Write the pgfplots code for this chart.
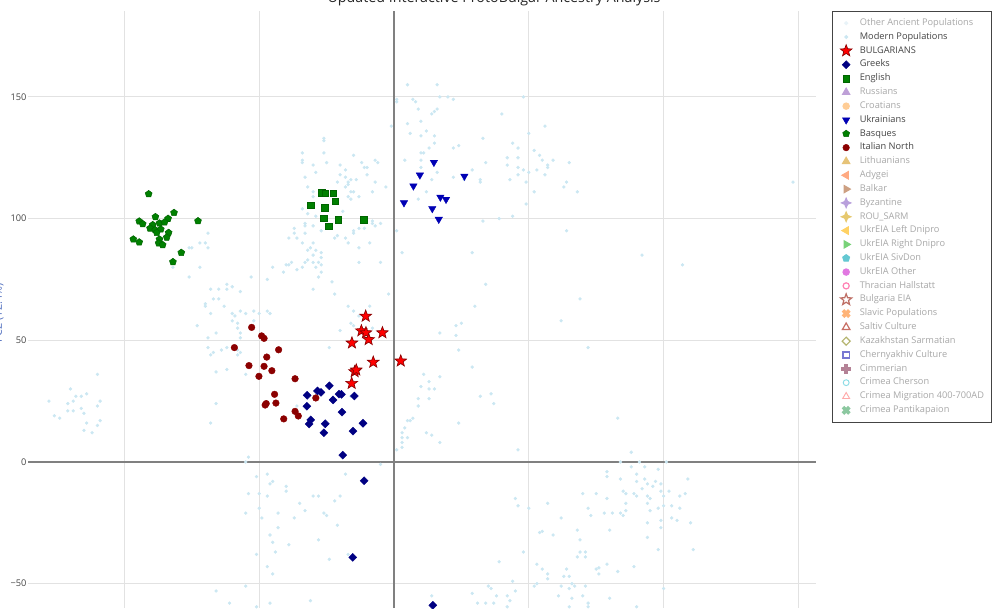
\documentclass[border=0pt]{standalone}
\usepackage{fontspec}
\setmainfont{Open Sans}
\usepackage{pgfplots}
\pgfplotsset{compat=1.18}
\usetikzlibrary{plotmarks}
\definecolor{txt}{RGB}{68,68,68}
\definecolor{fade}{RGB}{168,168,168}
\definecolor{gridc}{RGB}{226,226,226}
\definecolor{zero}{RGB}{128,128,128}
\definecolor{modern}{RGB}{203,231,242}
\definecolor{ancient}{RGB}{232,243,248}
\definecolor{bulline}{RGB}{139,0,0}
\definecolor{greek}{RGB}{0,0,130}
\definecolor{ukr}{RGB}{0,0,180}
\definecolor{eng}{RGB}{0,128,0}
\definecolor{engd}{RGB}{0,100,0}
\definecolor{itn}{RGB}{139,0,0}
\definecolor{ylab}{RGB}{80,110,190}
\definecolor{fRus}{RGB}{190,160,215}
\definecolor{fCro}{RGB}{255,205,150}
\definecolor{fLit}{RGB}{230,195,120}
\definecolor{fAdy}{RGB}{255,170,130}
\definecolor{fBal}{RGB}{205,160,130}
\definecolor{fByz}{RGB}{185,160,220}
\definecolor{fRou}{RGB}{230,200,110}
\definecolor{fLD}{RGB}{255,210,100}
\definecolor{fRD}{RGB}{120,210,120}
\definecolor{fSiv}{RGB}{100,200,210}
\definecolor{fOth}{RGB}{225,120,225}
\definecolor{fThr}{RGB}{255,130,180}
\definecolor{fBEIA}{RGB}{190,110,100}
\definecolor{fSla}{RGB}{255,180,120}
\definecolor{fSal}{RGB}{200,110,100}
\definecolor{fKaz}{RGB}{180,180,110}
\definecolor{fChe}{RGB}{120,120,210}
\definecolor{fCim}{RGB}{180,130,150}
\definecolor{fChr}{RGB}{140,220,230}
\definecolor{fMig}{RGB}{255,170,170}
\definecolor{fPan}{RGB}{140,200,160}

\pgfdeclareplotmark{fstar}{%
\pgfpathmoveto{\pgfpointpolar{90}{\pgfplotmarksize}}%
\pgfpathlineto{\pgfpointpolar{126}{0.42\pgfplotmarksize}}%
\pgfpathlineto{\pgfpointpolar{162}{\pgfplotmarksize}}%
\pgfpathlineto{\pgfpointpolar{198}{0.42\pgfplotmarksize}}%
\pgfpathlineto{\pgfpointpolar{234}{\pgfplotmarksize}}%
\pgfpathlineto{\pgfpointpolar{270}{0.42\pgfplotmarksize}}%
\pgfpathlineto{\pgfpointpolar{306}{\pgfplotmarksize}}%
\pgfpathlineto{\pgfpointpolar{342}{0.42\pgfplotmarksize}}%
\pgfpathlineto{\pgfpointpolar{18}{\pgfplotmarksize}}%
\pgfpathlineto{\pgfpointpolar{54}{0.42\pgfplotmarksize}}%
\pgfpathclose\pgfusepathqfillstroke}
\pgfdeclareplotmark{pdiamond}{%
\pgfpathmoveto{\pgfqpoint{0pt}{\pgfplotmarksize}}%
\pgfpathlineto{\pgfqpoint{\pgfplotmarksize}{0pt}}%
\pgfpathlineto{\pgfqpoint{0pt}{-\pgfplotmarksize}}%
\pgfpathlineto{\pgfqpoint{-\pgfplotmarksize}{0pt}}%
\pgfpathclose\pgfusepathqfillstroke}
\pgfdeclareplotmark{sdiamond}{%
\pgfpathmoveto{\pgfqpoint{0pt}{\pgfplotmarksize}}%
\pgfpathlineto{\pgfqpoint{0.3\pgfplotmarksize}{0.3\pgfplotmarksize}}%
\pgfpathlineto{\pgfqpoint{\pgfplotmarksize}{0pt}}%
\pgfpathlineto{\pgfqpoint{0.3\pgfplotmarksize}{-0.3\pgfplotmarksize}}%
\pgfpathlineto{\pgfqpoint{0pt}{-\pgfplotmarksize}}%
\pgfpathlineto{\pgfqpoint{-0.3\pgfplotmarksize}{-0.3\pgfplotmarksize}}%
\pgfpathlineto{\pgfqpoint{-\pgfplotmarksize}{0pt}}%
\pgfpathlineto{\pgfqpoint{-0.3\pgfplotmarksize}{0.3\pgfplotmarksize}}%
\pgfpathclose\pgfusepathqfillstroke}
\pgfdeclareplotmark{fcross}{%
\pgfpathmoveto{\pgfqpoint{0.33\pgfplotmarksize}{\pgfplotmarksize}}%
\pgfpathlineto{\pgfqpoint{0.33\pgfplotmarksize}{0.33\pgfplotmarksize}}%
\pgfpathlineto{\pgfqpoint{\pgfplotmarksize}{0.33\pgfplotmarksize}}%
\pgfpathlineto{\pgfqpoint{\pgfplotmarksize}{-0.33\pgfplotmarksize}}%
\pgfpathlineto{\pgfqpoint{0.33\pgfplotmarksize}{-0.33\pgfplotmarksize}}%
\pgfpathlineto{\pgfqpoint{0.33\pgfplotmarksize}{-\pgfplotmarksize}}%
\pgfpathlineto{\pgfqpoint{-0.33\pgfplotmarksize}{-\pgfplotmarksize}}%
\pgfpathlineto{\pgfqpoint{-0.33\pgfplotmarksize}{-0.33\pgfplotmarksize}}%
\pgfpathlineto{\pgfqpoint{-\pgfplotmarksize}{-0.33\pgfplotmarksize}}%
\pgfpathlineto{\pgfqpoint{-\pgfplotmarksize}{0.33\pgfplotmarksize}}%
\pgfpathlineto{\pgfqpoint{-0.33\pgfplotmarksize}{0.33\pgfplotmarksize}}%
\pgfpathlineto{\pgfqpoint{-0.33\pgfplotmarksize}{\pgfplotmarksize}}%
\pgfpathclose\pgfusepathqfillstroke}

\pgfplotsset{mk/.style={only marks, legend image code/.code={\path[draw=none,fill=none] (0pt,-3pt) rectangle (12pt,3pt); \draw[##1,overlay] plot coordinates {(6pt,0pt)};}}}

\begin{document}
\begin{tikzpicture}
\useasboundingbox (0,0) rectangle (750pt,456pt);
\clip (0,0) rectangle (750pt,456pt);
\begin{axis}[
  at={(21pt,0pt)}, anchor=south west,
  scale only axis, width=591pt, height=447.75pt,
  xmin=-135.76, xmax=156.53, ymin=-60, ymax=185.3,
  axis line style={draw=none},
  major tick length=0pt,
  xtick={-100,-50,50,100,150}, xticklabels={},
  ytick={-50,50,100,150}, yticklabels={−50,50,100,150},
  extra x ticks={0}, extra x tick labels={},
  extra y ticks={0}, extra y tick labels={0},
  extra tick style={grid=major, major grid style={zero, line width=1.1pt}},
  grid=major, major grid style={gridc, line width=0.75pt},
  tick label style={font=\fontsize{6.93}{8}\selectfont, text=txt},
  yticklabel style={inner sep=0pt, xshift=-1pt},
  every axis title shift=0pt,
  title={Updated Interactive ProtoBulgar Ancestry Analysis},
  title style={at={(0.5914,1.0138)}, anchor=base, yshift=0pt, font=\fontsize{10.7}{13}\selectfont, text=black!85},
  ylabel={PC2 (12.4\%)},
  ylabel style={at={(-0.0333,0.494)}, anchor=base, font=\fontsize{8.1}{10}\selectfont, text=ylab},
  legend cell align=left,
  legend style={at={(1.0203,1.0003)}, anchor=north west, draw=txt, line width=0.75pt, fill=white,
    font=\fontsize{6.93}{8}\selectfont, text=txt, inner xsep=4.25pt, inner ysep=5.4pt,
    row sep=3.37pt, column sep=3.25pt,
    nodes={inner xsep=1pt, inner ysep=0pt, text height=5.2pt, text depth=1.8pt}},
]
\addlegendimage{mk, mark=*, mark size=1.1pt, color=ancient}
\addlegendentry[text=fade]{Other Ancient Populations}

\addplot[mk, mark=*, mark size=1.05pt, color=modern] coordinates {
(5,155) (1,149) (7,149) (-1,138) (5,139) (6,135) (4,124) (-26,133) (-26,132) (-26,127) (-34,127) (-34,124) (-34,123) (-30,122) (-29,119) (-25,123) (-20,122) (-15,126) (-12,123) (-10,121) (-7,124) (-6,123) (-11,121) (-10,118) (-18,120) (-20,118) (-18,117) (-17,115) (-21,115) (-17,114) (-16,116) (-14,116) (-7,115) (-3,113) (-33,117) (-32,113) (-30,111) (-16,111) (-15,111) (-13,109) (-8,111) (-17,109)
(16,155) (1,148) (8,148) (17,150) (20,150) (22,149) (48,150) (9,145) (14,143) (15,144) (16,145) (40,143) (10,140) (10,134) (15,134) (12,136) (56,138) (15,131) (13,129) (22,129) (24,130) (33,133) (44,131) (50,135) (46,129) (11,127) (52,128) (54,126) (46,125) (42,125) (10,124) (55,124) (59,124) (65,123) (34,123) (42,122) (57,122) (57,121) (46,121) (48,120) (53,120) (50,119) (46,118) (56,118) (10,121) (16,119) (29,120) (22,117) (14,116) (32,116) (43,116) (64,115) (63,113) (68,111) (52,111) (148,115) (9,108)
(26,116) (32,115) (49,115) (49,106) (44,101) (39,100) (33,99) (64,95) (3,86) (29,86) (92,85) (107,81) (34,73) (69,67) (30,64) (23,56) (25,57) (62,58) (17,53) (23,52) (24,46) (72,47) (29,39) (11,36) (17,35) (13,33) (10,31) (13,30) (15,30) (32,27) (36,28) (9,26) (13,26) (37,24) (9,23)
(-69,94) (-72,90) (-70,90) (-69,88) (-76,88) (-75,88) (-72,80) (-82,80) (-76,76) (-68,71) (-65,71) (-65,67) (-62,71) (-62,73) (-57,70) (-60,72) (-70,65) (-70,64) (-67,67) (-63,64) (-68,61) (-60,61) (-57,62) (-55,61) (-52,62) (-59,60) (-60,58) (-58,57) (-52,58) (-58,55) (-73,56) (-69,51) (-66,53) (-57,51) (-69,47) (-67,45) (-68,44) (-64,46) (-62,47) (-57,45) (-58,44) (-66,37) (-53,76) (-47,75) (-45,80) (-41,78) (-40,81) (-38,82) (-39,81) (-36,79) (-34,80) (-33,82) (-32,83) (-30,82) (-30,85) (-28,82) (-27,81) (-29,80) (-27,78) (-28,76) (-30,71) (-37,96) (-37,94) (-39,92) (-36,92) (-33,97) (-33,94) (-34,90) (-31,88) (-32,87) (-30,90) (-29,87) (-27,86) (-27,84) (-22,92) (-17,90) (-15,94) (-13,88) (-13,82) (-9,90) (-11,96) (-8,98) (-5,82) (-2,69) (-23,74) (-47,62) (-46,61) (-50,61) (-24,47) (-17,64) (-16,57) (-13,60) (-15,62)
(-128,25) (-120,30) (-116,27) (-114,28) (-118,27) (-110,36) (-121,24) (-119,25) (-109,25) (-66,24)
(-126,19) (-124,18) (-121,21) (-119,21) (-116,22) (-115,20) (-114,16) (-115,13) (-112,12) (-110,15) (-109,17) (-110,23) (-68,16) (-54,2) (-55,0) (-51,-6) (-47,-5) (-46,-9) (-45,-8) (-54,-13) (-50,-13) (-47,-14) (-40,-10) (-40,-12) (-30,-14) (-28,-14) (-20,-14) (-22,-16) (-18,-5) (-35,-17) (-33,-20) (-43,-21) (-50,-19) (-55,-21) (-49,-23) (-37,-23) (-26,-21) (-25,-22) (-21,-26) (-43,-27) (-46,-30) (-45,-33) (-39,-34) (-28,-32) (-44,-37) (-51,-38) (-24,-40) (-17,-38) (-47,-43) (-45,-46) (-55,-51) (-66,-53) (-61,-58) (-51,-59.5) (-46,-58) (-31,-57) (-5,-1) (1,5) (3,8) (4,14) (3,12) (5,17) (6,17)
(7,18) (5,10) (3,6) (12,12) (14,11) (17,8) (24,16) (46,5) (83,18) (88,4) (91,0) (84,0) (88,-2) (93,-2) (98,-3) (101,0) (79,-4) (79,-6) (84,-7) (90,-5) (93,-7) (90,-8) (94,-9) (97,-8) (99,-9) (96,-10) (92,-11) (85,-12) (86,-13) (89,-13) (90,-14) (94,-14) (95,-15) (99,-12) (100,-14) (102,-12) (106,-14) (108,-13) (109,-7) (70,-13) (75,-13) (79,-15) (94,-17) (100,-18) (103,-18) (106,-19) (98,-19) (95,-20) (86,-17) (81,-21) (78,-21) (84,-21) (86,-20) (85,-22) (72,-19) (73,-22) (62,-23) (57,-17) (50,-19) (46,-18) (45,-15) (94,-25) (99,-24) (103,-23) (105,-24) (110,-25) (99,-27) (94,-31) (111,-36) (98,-36) (80,-28) (68,-28) (54,-29) (55,-28.5) (59,-30) (69,-32) (69,-37) (71,-37) (68,-39) (71,-39) (48,-37) (39,-41) (53,-42) (55,-44) (57,-46) (57,-48) (63,-47) (65,-47) (64,-44) (75,-44) (76,-43.5) (76,-46) (79,-42) (83,-45) (89,-43) (44,-49) (52,-51) (53,-50) (62,-51) (65,-52) (66,-50) (67,-51) (71,-51) (35,-51) (36,-52) (29,-54) (31,-58) (34,-58) (38,-55) (37,-58) (42,-55) (43,-57) (45,-53) (61,-55) (66,-56) (70,-55) (72,-58) (80,-56) (100,-52) (14,-55) (42,-59.5) (65,-59.5) (72,-59.5) (90,-59.5)
(-22,69) (-9,64) (-15,56) (-20,54) (-8,55) (3,10) (-16,27) (-57,53) (-58,46) (-62,38) (-55,36) (-36,23)
(-18,113) (-16,108) (-30,109) (-34,104) (-32,102) (-29,101) (-33,98) (-30,97) (-27,95) (-19,103) (-15,95) (-13,96) (-8,99) (-5,98) (-7,97) (-21,93) (-18,92) (10,127) (12,111) (1,95)
};
\addlegendentry{Modern Populations}

\addplot[mk, mark=fstar, mark size=4.6pt, mark options={draw=bulline, fill=red, line width=0.5pt}] coordinates {
(-10.5,59.9) (-12.1,53.9) (-10.4,53.1) (-4.3,53.1) (-9.4,50.3) (-15.6,48.9) (-7.7,41.0) (-14.6,37.1) (-14.0,37.8) (-15.7,32.3) (2.5,41.5)
};
\addlegendentry{BULGARIANS}

\addplot[mk, mark=pdiamond, mark size=3pt, mark options={draw=greek, fill=greek, line width=0.3pt}] coordinates {
(-24.0,31.3) (-28.4,29.2) (-27.1,28.6) (-32.2,27.4) (-20.4,27.9) (-19.5,27.8) (-14.7,27.1) (-22.6,25.5) (-32.3,22.9) (-19.3,20.5) (-30.9,17.3) (-31.5,15.6) (-25.5,15.7) (-11.5,15.9) (-26.0,12.0) (-15.2,12.7) (-19.0,2.8) (-11.1,-7.7) (-15.3,-39.2) (14.4,-58.9)
};
\addlegendentry{Greeks}

\addplot[mk, mark=square*, mark size=2.5pt, mark options={draw=engd, fill=eng, line width=0.4pt}] coordinates {
(-26.7,110.6) (-25.5,110.4) (-22.5,110.4) (-21.8,107.1) (-30.9,105.5) (-25.7,104.4) (-26.0,100.1) (-20.7,99.5) (-11.1,99.4) (-24.2,96.8)
};
\addlegendentry{English}

\addlegendimage{mk, mark=triangle*, mark size=3.2pt, mark options={draw=fRus, fill=fRus}}
\addlegendentry[text=fade]{Russians}
\addlegendimage{mk, mark=*, mark size=2.4pt, mark options={draw=fCro, fill=fCro}}
\addlegendentry[text=fade]{Croatians}

\addplot[mk, mark=triangle*, mark size=3.2pt, mark options={rotate=180, draw=ukr, fill=ukr, line width=0.3pt}] coordinates {
(14.8,123.1) (9.6,117.9) (26.1,117.4) (7.2,113.4) (17.2,108.8) (19.3,107.9) (3.7,106.5) (14.2,104.1) (16.6,99.7)
};
\addlegendentry{Ukrainians}

\addplot[mk, mark=pentagon*, mark size=2.7pt, mark options={draw=engd, fill=eng, line width=0.4pt}] coordinates {
(-91.0,110.1) (-88.5,100.7) (-81.6,102.4) (-83.8,100.0) (-72.7,99.0) (-94.5,98.9) (-93.2,97.8) (-89.5,97.4) (-87.0,98.1) (-85.1,98.5) (-90.5,96.0) (-88.6,95.3) (-86.5,95.6) (-88.0,94.2) (-83.6,94.2) (-84.3,92.3) (-96.7,91.5) (-94.5,90.3) (-87.0,91.5) (-87.3,89.9) (-85.8,89.2) (-78.9,86.0) (-82.0,82.2)
};
\addlegendentry{Basques}

\addplot[mk, mark=*, mark size=2.5pt, mark options={draw=itn, fill=itn, line width=0.3pt}] coordinates {
(-52.8,55.3) (-49.1,51.8) (-48.2,50.8) (-59.2,47.0) (-42.8,46.1) (-47.2,43.1) (-53.8,39.6) (-48.2,39.3) (-45.3,37.5) (-50.1,35.2) (-36.7,34.2) (-44.3,27.8) (-43.8,24.2) (-47.8,23.4) (-47.4,24.0) (-29.0,26.3) (-36.7,20.8) (-35.5,18.9) (-40.9,17.7)
};
\addlegendentry{Italian North}

\addlegendimage{mk, mark=triangle*, mark size=3.2pt, mark options={draw=fLit, fill=fLit}}
\addlegendentry[text=fade]{Lithuanians}
\addlegendimage{mk, mark=triangle*, mark size=3.2pt, mark options={rotate=90, draw=fAdy, fill=fAdy}}
\addlegendentry[text=fade]{Adygei}
\addlegendimage{mk, mark=triangle*, mark size=3.2pt, mark options={rotate=-90, draw=fBal, fill=fBal}}
\addlegendentry[text=fade]{Balkar}
\addlegendimage{mk, mark=sdiamond, mark size=3.6pt, mark options={draw=fByz, fill=fByz}}
\addlegendentry[text=fade]{Byzantine}
\addlegendimage{mk, mark=sdiamond, mark size=3.6pt, mark options={draw=fRou, fill=fRou}}
\addlegendentry[text=fade]{ROU\_SARM}
\addlegendimage{mk, mark=triangle*, mark size=3.2pt, mark options={rotate=90, draw=fLD, fill=fLD}}
\addlegendentry[text=fade]{UkrEIA Left Dnipro}
\addlegendimage{mk, mark=triangle*, mark size=3.2pt, mark options={rotate=-90, draw=fRD, fill=fRD}}
\addlegendentry[text=fade]{UkrEIA Right Dnipro}
\addlegendimage{mk, mark=pentagon*, mark size=2.7pt, mark options={draw=fSiv, fill=fSiv}}
\addlegendentry[text=fade]{UkrEIA SivDon}
\addlegendimage{mk, mark=*, mark size=2.4pt, mark options={draw=fOth, fill=fOth}}
\addlegendentry[text=fade]{UkrEIA Other}
\addlegendimage{mk, mark=*, mark size=2.3pt, mark options={draw=fThr, fill=white, line width=0.9pt}}
\addlegendentry[text=fade]{Thracian Hallstatt}
\addlegendimage{mk, mark=fstar, mark size=4.4pt, mark options={draw=fBEIA, fill=white, line width=0.9pt}}
\addlegendentry[text=fade]{Bulgaria EIA}
\addlegendimage{mk, mark=fcross, mark size=3pt, mark options={rotate=45, draw=fSla, fill=fSla}}
\addlegendentry[text=fade]{Slavic Populations}
\addlegendimage{mk, mark=triangle*, mark size=3.3pt, mark options={draw=fSal, fill=white, line width=0.9pt}}
\addlegendentry[text=fade]{Saltiv Culture}
\addlegendimage{mk, mark=pdiamond, mark size=3pt, mark options={draw=fKaz, fill=white, line width=0.9pt}}
\addlegendentry[text=fade]{Kazakhstan Sarmatian}
\addlegendimage{mk, mark=square*, mark size=2.3pt, mark options={draw=fChe, fill=white, line width=0.9pt}}
\addlegendentry[text=fade]{Chernyakhiv Culture}
\addlegendimage{mk, mark=fcross, mark size=3.2pt, mark options={draw=fCim, fill=fCim}}
\addlegendentry[text=fade]{Cimmerian}
\addlegendimage{mk, mark=*, mark size=2.2pt, mark options={draw=fChr, fill=white, line width=0.7pt}}
\addlegendentry[text=fade]{Crimea Cherson}
\addlegendimage{mk, mark=triangle*, mark size=3pt, mark options={draw=fMig, fill=white, line width=0.7pt}}
\addlegendentry[text=fade]{Crimea Migration 400-700AD}
\addlegendimage{mk, mark=fcross, mark size=3pt, mark options={rotate=45, draw=fPan, fill=fPan}}
\addlegendentry[text=fade]{Crimea Pantikapaion}
\end{axis}
\end{tikzpicture}
\end{document}
